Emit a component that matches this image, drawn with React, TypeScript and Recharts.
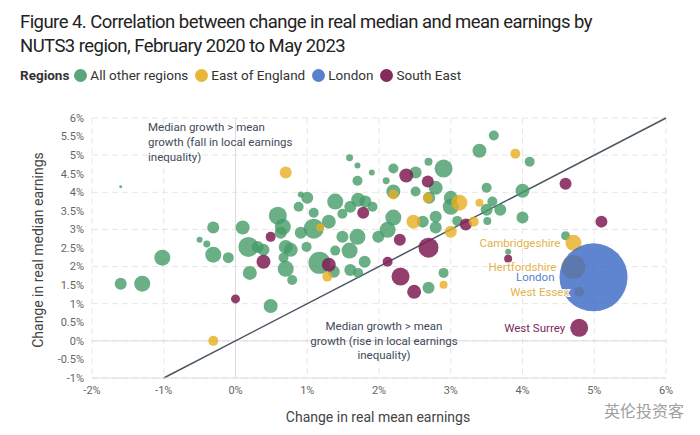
import { ScatterChart, Scatter, XAxis, YAxis, ZAxis, CartesianGrid, ReferenceLine, LabelList } from 'recharts'

// x = change in real mean earnings (%), y = change in real median earnings (%), jobs = bubble weight
type Pt = { x: number; y: number; jobs: number; label?: string }

const otherRegions: Pt[] = [
    { x: -1.6, y: 4.15, jobs: 11 },
    { x: -1.6, y: 1.54, jobs: 180 },
    { x: -1.3, y: 1.54, jobs: 320 },
    { x: -1.02, y: 2.24, jobs: 320 },
    { x: -0.5, y: 2.72, jobs: 45 },
    { x: -0.4, y: 2.61, jobs: 61 },
    { x: -0.31, y: 3.05, jobs: 180 },
    { x: -0.31, y: 2.32, jobs: 320 },
    { x: -0.1, y: 2.24, jobs: 151 },
    { x: 0.1, y: 3.05, jobs: 245 },
    { x: 0.18, y: 2.53, jobs: 500 },
    { x: 0.31, y: 2.53, jobs: 180 },
    { x: 0.39, y: 2.45, jobs: 180 },
    { x: 0.2, y: 1.83, jobs: 245 },
    { x: 0.49, y: 0.94, jobs: 245 },
    { x: 0.63, y: 2.91, jobs: 180 },
    { x: 0.7, y: 2.53, jobs: 245 },
    { x: 0.77, y: 2.45, jobs: 245 },
    { x: 0.67, y: 2.24, jobs: 125 },
    { x: 0.7, y: 1.94, jobs: 320 },
    { x: 0.79, y: 1.64, jobs: 125 },
    { x: 0.99, y: 2.53, jobs: 125 },
    { x: 0.91, y: 2.91, jobs: 180 },
    { x: 1.17, y: 2.1, jobs: 605 },
    { x: 0.91, y: 3.94, jobs: 45 },
    { x: 0.88, y: 3.61, jobs: 125 },
    { x: 0.59, y: 3.37, jobs: 405 },
    { x: 0.66, y: 3.07, jobs: 320 },
    { x: 1.0, y: 3.85, jobs: 180 },
    { x: 1.09, y: 3.45, jobs: 125 },
    { x: 1.09, y: 3.02, jobs: 500 },
    { x: 1.49, y: 2.8, jobs: 180 },
    { x: 1.7, y: 2.8, jobs: 320 },
    { x: 1.99, y: 2.8, jobs: 180 },
    { x: 1.59, y: 4.93, jobs: 61 },
    { x: 1.7, y: 4.72, jobs: 45 },
    { x: 1.9, y: 4.53, jobs: 45 },
    { x: 1.7, y: 4.31, jobs: 125 },
    { x: 2.2, y: 4.64, jobs: 125 },
    { x: 2.1, y: 4.31, jobs: 61 },
    { x: 2.51, y: 4.53, jobs: 180 },
    { x: 2.2, y: 4.02, jobs: 245 },
    { x: 2.51, y: 4.02, jobs: 125 },
    { x: 1.39, y: 3.75, jobs: 320 },
    { x: 1.6, y: 3.61, jobs: 180 },
    { x: 1.71, y: 3.8, jobs: 245 },
    { x: 1.81, y: 3.75, jobs: 180 },
    { x: 1.91, y: 3.61, jobs: 125 },
    { x: 1.49, y: 3.42, jobs: 125 },
    { x: 1.3, y: 3.21, jobs: 245 },
    { x: 2.2, y: 3.32, jobs: 320 },
    { x: 2.12, y: 2.99, jobs: 320 },
    { x: 2.61, y: 3.21, jobs: 180 },
    { x: 2.9, y: 4.64, jobs: 405 },
    { x: 2.69, y: 4.82, jobs: 80 },
    { x: 3.6, y: 5.53, jobs: 125 },
    { x: 3.4, y: 5.12, jobs: 245 },
    { x: 4.1, y: 4.82, jobs: 125 },
    { x: 3.5, y: 4.12, jobs: 125 },
    { x: 4.0, y: 4.04, jobs: 245 },
    { x: 3.0, y: 3.85, jobs: 245 },
    { x: 3.0, y: 3.61, jobs: 320 },
    { x: 3.58, y: 3.75, jobs: 125 },
    { x: 3.5, y: 3.53, jobs: 180 },
    { x: 3.69, y: 3.53, jobs: 180 },
    { x: 4.0, y: 3.32, jobs: 180 },
    { x: 3.09, y: 3.23, jobs: 125 },
    { x: 2.79, y: 4.12, jobs: 245 },
    { x: 2.79, y: 3.34, jobs: 180 },
    { x: 2.79, y: 3.05, jobs: 180 },
    { x: 2.7, y: 3.85, jobs: 180 },
    { x: 3.51, y: 3.23, jobs: 80 },
    { x: 4.6, y: 2.83, jobs: 101 },
    { x: 3.8, y: 2.4, jobs: 45 },
    { x: 2.9, y: 1.83, jobs: 125 },
    { x: 2.69, y: 1.43, jobs: 180 },
    { x: 1.39, y: 2.43, jobs: 125 },
    { x: 1.59, y: 2.43, jobs: 320 },
    { x: 1.8, y: 2.13, jobs: 180 },
    { x: 1.6, y: 1.91, jobs: 180 },
    { x: 1.71, y: 1.83, jobs: 125 },
    { x: 1.37, y: 1.86, jobs: 180 },
]

const eastOfEngland: Pt[] = [
    { x: 0.7, y: 4.53, jobs: 180 },
    { x: -0.31, y: 0.0, jobs: 125 },
    { x: 1.18, y: 3.05, jobs: 80 },
    { x: 2.2, y: 3.94, jobs: 125 },
    { x: 2.48, y: 3.21, jobs: 245 },
    { x: 2.68, y: 3.85, jobs: 125 },
    { x: 3.12, y: 3.72, jobs: 320 },
    { x: 3.4, y: 3.72, jobs: 80 },
    { x: 3.9, y: 5.04, jobs: 125 },
    { x: 3.32, y: 3.21, jobs: 125 },
    { x: 3.0, y: 2.94, jobs: 180 },
    { x: 1.28, y: 1.73, jobs: 125 },
    { x: 2.9, y: 1.51, jobs: 80 },
    { x: 4.71, y: 2.64, jobs: 320, label: 'Cambridgeshire' },
    { x: 4.71, y: 1.99, jobs: 720, label: 'Hertfordshire' },
    { x: 4.79, y: 1.32, jobs: 125, label: 'West Essex' },
]

const london: Pt[] = [{ x: 4.99, y: 1.71, jobs: 5780, label: 'London' }]

const southEast: Pt[] = [
    { x: 0.0, y: 1.13, jobs: 101 },
    { x: 0.39, y: 2.13, jobs: 245 },
    { x: 0.49, y: 2.8, jobs: 125 },
    { x: 1.78, y: 3.45, jobs: 180 },
    { x: 2.38, y: 4.45, jobs: 245 },
    { x: 2.68, y: 4.29, jobs: 180 },
    { x: 2.29, y: 2.72, jobs: 180 },
    { x: 2.69, y: 2.51, jobs: 500 },
    { x: 1.3, y: 2.05, jobs: 245 },
    { x: 2.12, y: 2.13, jobs: 125 },
    { x: 2.3, y: 1.73, jobs: 405 },
    { x: 2.49, y: 1.32, jobs: 245 },
    { x: 3.21, y: 3.13, jobs: 180 },
    { x: 4.6, y: 4.23, jobs: 180 },
    { x: 5.1, y: 3.21, jobs: 180 },
    { x: 3.8, y: 2.21, jobs: 80 },
    { x: 4.79, y: 0.35, jobs: 405, label: 'West Surrey' },
]

const xTicks = [-2, -1, 0, 1, 2, 3, 4, 5, 6]
const yTicks = [-1, -0.5, 0, 0.5, 1, 1.5, 2, 2.5, 3, 3.5, 4, 4.5, 5, 5.5, 6]

const legendItems = [
    { name: 'All other regions', color: '#5aa67a' },
    { name: 'East of England', color: '#e8b73a' },
    { name: 'London', color: '#5b80cc' },
    { name: 'South East', color: '#842a5c' },
]

const FONT = 'Roboto, "Noto Sans", sans-serif'
const pct = (v: number) => `${v}%`

export default function App() {
    const labelStyle = { fontSize: 11.5, stroke: '#fff', strokeWidth: 2, paintOrder: 'stroke' as const }
    return (
        <div style={{ position: 'absolute', left: 0, top: 0, width: 700, height: 435, background: '#fff', fontFamily: FONT, color: '#222' }}>
            <div style={{ position: 'absolute', left: 20, top: 10, fontSize: 18.5, lineHeight: '24px', letterSpacing: -0.55, color: '#222', whiteSpace: 'nowrap' }}>
                Figure 4. Correlation between change in real median and mean earnings by<br />
                NUTS3 region, February 2020 to May 2023
            </div>
            <div style={{ position: 'absolute', left: 20, top: 67, display: 'flex', alignItems: 'center', fontSize: 13.5, color: '#333', whiteSpace: 'nowrap' }}>
                <span style={{ fontWeight: 700, marginRight: 5 }}>Regions</span>
                {legendItems.map((it) => (
                    <span key={it.name} style={{ display: 'flex', alignItems: 'center', marginRight: 7 }}>
                        <span style={{ width: 13, height: 13, borderRadius: 7, background: it.color, marginRight: 3 }} />
                        {it.name}
                    </span>
                ))}
            </div>

            <ScatterChart width={700} height={435} margin={{ top: 118, right: 34, bottom: 27, left: 42 }} style={{ position: 'absolute', left: 0, top: 0 }}>
                <CartesianGrid stroke="#e6e6e6" strokeDasharray="6 4" />
                <XAxis
                    type="number"
                    dataKey="x"
                    domain={[-2, 6]}
                    ticks={xTicks}
                    tickFormatter={pct}
                    tick={{ fontSize: 11, fill: '#666', fontFamily: FONT }}
                    tickLine={false}
                    axisLine={{ stroke: '#dcdcdc' }}
                    height={30}
                    allowDataOverflow
                />
                <YAxis
                    type="number"
                    dataKey="y"
                    domain={[-1, 6]}
                    ticks={yTicks}
                    tickFormatter={pct}
                    tick={{ fontSize: 11, fill: '#666', fontFamily: FONT }}
                    tickLine={false}
                    axisLine={false}
                    width={50}
                    allowDataOverflow
                />
                <ZAxis type="number" dataKey="jobs" domain={[0, 5780]} range={[0, 3632]} />
                <ReferenceLine x={0} stroke="#dcdcdc" />
                <ReferenceLine y={0} stroke="#dcdcdc" />
                <ReferenceLine segment={[{ x: -1, y: -1 }, { x: 6, y: 6 }]} stroke="#4a5662" strokeWidth={1.5} />
                <Scatter name="All other regions" data={otherRegions} fill="#459b68" fillOpacity={0.8} isAnimationActive={false} />
                <Scatter name="South East" data={southEast} fill="#7f1d55" fillOpacity={0.85} isAnimationActive={false}>
                    <LabelList dataKey="label" position="left" offset={5} fill="#7d2a5a" style={labelStyle} />
                </Scatter>
                <Scatter name="East of England" data={eastOfEngland} fill="#e6ae22" fillOpacity={0.8} isAnimationActive={false}>
                    <LabelList dataKey="label" position="left" offset={5} fill="#e2b24c" style={labelStyle} />
                </Scatter>
                <Scatter name="London" data={london} fill="#3866c4" fillOpacity={0.8} isAnimationActive={false}>
                    <LabelList dataKey="label" position="left" offset={5} fill="#5a7fcc" style={labelStyle} />
                </Scatter>
            </ScatterChart>

            <div style={{ position: 'absolute', left: 148, top: 120, fontSize: 11.5, lineHeight: '15px', color: '#3e4a59' }}>
                Median growth &gt; mean<br />
                growth (fall in local earnings<br />
                inequality)
            </div>
            <div style={{ position: 'absolute', left: 290, top: 319, width: 188, textAlign: 'center', fontSize: 11.5, lineHeight: '14.5px', color: '#3e4a59' }}>
                Median growth &gt; mean<br />
                growth (rise in local earnings<br />
                inequality)
            </div>

            <div style={{ position: 'absolute', left: 38, top: 250, transform: 'translate(-50%, -50%) rotate(-90deg)', whiteSpace: 'nowrap', fontSize: 14, color: '#444' }}>
                Change in real median earnings
            </div>
            <div style={{ position: 'absolute', left: 378, top: 417, transform: 'translate(-50%, -50%)', whiteSpace: 'nowrap', fontSize: 14, color: '#444' }}>
                Change in real mean earnings
            </div>
            <div style={{ position: 'absolute', left: 604, top: 401, fontSize: 16, lineHeight: '18px', color: '#a0a0a0', whiteSpace: 'nowrap', fontFamily: '"Noto Sans CJK SC", sans-serif' }}>
                英伦投资客
            </div>
        </div>
    )
}
